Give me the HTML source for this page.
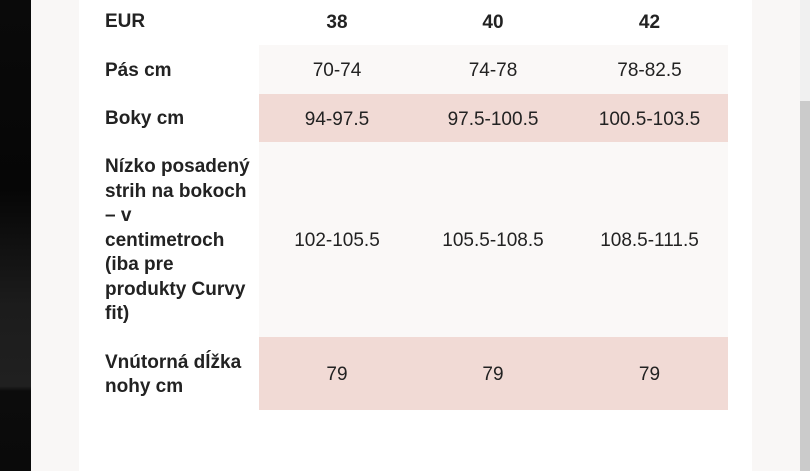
<!DOCTYPE html>
<html><head><meta charset="utf-8"><style>
body{margin:0;width:810px;height:471px;overflow:hidden;background:#f9f7f6;font-family:"Liberation Sans",sans-serif;color:#222;position:relative}
.dark{position:absolute;left:0;top:0;width:31px;height:471px;background:linear-gradient(#0a0a0a 0%,#060606 40%,#1c1c1c 65%,#202020 82%,#0c0c0c 83%,#0a0a0a 100%)}
.card{position:absolute;left:79px;top:0;width:673px;height:471px;background:#fff}
.sb1{position:absolute;left:800px;top:0;width:10px;height:101px;background:#f0f0f0}
.sb2{position:absolute;left:800px;top:101px;width:10px;height:370px;background:#cbcbcb}
.row{position:absolute;left:79px;width:649px;font-size:19px}
.row div{position:absolute;top:0;height:100%;display:flex;align-items:center;justify-content:center;box-sizing:border-box;padding-top:3px}
.row .l{left:26px;width:150px;justify-content:flex-start;font-weight:bold;line-height:24.5px}
.c1{left:180px;width:156px}.c2{left:336px;width:156px}.c3{left:492px;width:157px}
.bg{position:absolute;left:180px!important;width:469px!important}
.lt{background:#faf8f7}.pk{background:#f1dad5}
.h div{font-weight:bold}
</style></head><body>
<div class="dark"></div><div class="card"></div><div class="sb1"></div><div class="sb2"></div>
<div class="row h" style="top:0;height:42px"><div class="l">EUR</div><div class="c1">38</div><div class="c2">40</div><div class="c3">42</div></div>
<div class="row" style="top:45px;height:49px"><div class="bg lt"></div><div class="l">Pás cm</div><div class="c1">70-74</div><div class="c2">74-78</div><div class="c3">78-82.5</div></div>
<div class="row" style="top:94px;height:48px"><div class="bg pk"></div><div class="l">Boky cm</div><div class="c1">94-97.5</div><div class="c2">97.5-100.5</div><div class="c3">100.5-103.5</div></div>
<div class="row" style="top:142px;height:195px"><div class="bg lt"></div><div class="l">Nízko posadený strih na bokoch – v centimetroch (iba pre produkty Curvy fit)</div><div class="c1">102-105.5</div><div class="c2">105.5-108.5</div><div class="c3">108.5-111.5</div></div>
<div class="row" style="top:337px;height:73px"><div class="bg pk"></div><div class="l">Vnútorná dĺžka nohy cm</div><div class="c1">79</div><div class="c2">79</div><div class="c3">79</div></div>
</body></html>
